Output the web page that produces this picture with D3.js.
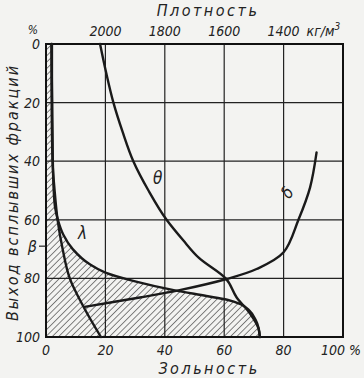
<!DOCTYPE html>
<html><head><meta charset="utf-8">
<script src="https://cdn.jsdelivr.net/npm/d3@7"></script>
<style>
html,body{margin:0;padding:0;background:#f3f3f1;}
svg{display:block;}
text{font-family:"Liberation Sans Narrow","DejaVu Sans Condensed",sans-serif;font-style:italic;fill:#222;}
</style></head>
<body>
<script>
// Ash (%) vs yield of floated fractions (%)
const ashTicks = [0, 20, 40, 60, 80, 100];
const yieldTicks = [0, 20, 40, 60, 80, 100];
const densityTicks = [2000, 1800, 1600, 1400];
const betaYield = 69;

// λ – cumulative ash of floats (hatch boundary)
const lambdaYield = [0, 10, 20, 30, 40, 50, 56, 60, 65, 70, 75, 78, 81, 84, 86, 87.3, 88.8, 91, 94, 97, 100];
const lambdaAsh   = [2.0, 2.0, 2.1, 2.2, 2.3, 2.6, 3.1, 4.0, 5.8, 9.0, 14.5, 20, 30, 43, 54, 61, 65.5, 68.5, 70.5, 71.6, 72];

// elementary ash curve
const elemYield = [0, 20, 40, 50, 60, 70, 80, 90, 100];
const elemAsh   = [1.8, 1.9, 2.2, 2.9, 3.9, 5.6, 8.0, 12.8, 18.5];

// θ – density curve
const thetaYield   = [0, 10, 20, 30, 40, 50, 60, 67, 73, 80, 86.5, 92, 97, 100];
const thetaDensity = [2018, 1997, 1973, 1942, 1906, 1855, 1794, 1738, 1685, 1595, 1558, 1513, 1485, 1480];

// δ – cumulative ash of sinks
const deltaYield = [89.7, 86.5, 84, 80.2, 76.8, 71.1, 60, 49, 37];
const deltaAsh   = [13, 31.6, 45, 60.8, 70.9, 80, 85, 88.9, 91.1];

const W = 364, H = 378;
const m = {left: 46, right: 21, top: 44, bottom: 41};

const svg = d3.select("body").append("svg").attr("width", W).attr("height", H);

const x = d3.scaleLinear().domain([0, 100]).range([m.left, W - m.right]);
const y = d3.scaleLinear().domain([0, 100]).range([m.top, H - m.bottom]);
const xd = d3.scaleLinear().domain([2200, 1200]).range([m.left, W - m.right]);

// hatch pattern
const defs = svg.append("defs");
const pat = defs.append("pattern").attr("id", "hatch").attr("patternUnits", "userSpaceOnUse")
  .attr("width", 4.5).attr("height", 4.5).attr("patternTransform", "rotate(45)");
pat.append("line").attr("x1", 0).attr("y1", 0).attr("x2", 0).attr("y2", 4.5)
  .attr("stroke", "#222").attr("stroke-width", 1.1);

// hatched area between x=0 and λ
const lambdaPts = lambdaYield.map((v, i) => [lambdaAsh[i], v]);
const area = d3.area().curve(d3.curveMonotoneY)
  .y(d => y(d[1])).x0(x(0)).x1(d => x(d[0]));
svg.append("path").datum(lambdaPts).attr("d", area).attr("fill", "url(#hatch)");

// grid
const g = svg.append("g");
g.selectAll(".gx").data(ashTicks.slice(1, -1)).join("line")
  .attr("x1", d => x(d)).attr("x2", d => x(d)).attr("y1", y(0)).attr("y2", y(100))
  .attr("stroke", "#222").attr("stroke-width", 1.2);
g.selectAll(".gy").data(yieldTicks.slice(1, -1)).join("line")
  .attr("y1", d => y(d)).attr("y2", d => y(d)).attr("x1", x(0)).attr("x2", x(100))
  .attr("stroke", "#222").attr("stroke-width", 1.2);

// frame
svg.append("rect").attr("x", x(0)).attr("y", y(0)).attr("width", x(100) - x(0)).attr("height", y(100) - y(0))
  .attr("fill", "none").attr("stroke", "#111").attr("stroke-width", 2);

// curves
const lineAY = d3.line().curve(d3.curveMonotoneY).x(d => x(d[0])).y(d => y(d[1]));
const curveStyle = p => p.attr("fill", "none").attr("stroke", "#1a1a1a").attr("stroke-width", 2.4).attr("stroke-linecap", "round");

svg.append("path").datum(lambdaPts).attr("d", lineAY).call(curveStyle);
svg.append("path").datum(elemYield.map((v, i) => [elemAsh[i], v])).attr("d", lineAY).call(curveStyle);

const thetaLine = d3.line().curve(d3.curveMonotoneY).x(d => xd(d[0])).y(d => y(d[1]));
svg.append("path").datum(thetaYield.map((v, i) => [thetaDensity[i], v])).attr("d", thetaLine).call(curveStyle);

const deltaLine = d3.line().curve(d3.curveCatmullRom).x(d => x(d[0])).y(d => y(d[1]));
svg.append("path").datum(deltaYield.map((v, i) => [deltaAsh[i], v])).attr("d", deltaLine).call(curveStyle);

// left axis labels
svg.selectAll(".yl").data(yieldTicks).join("text")
  .attr("x", m.left - 6).attr("y", d => y(d) + 5).attr("text-anchor", "end")
  .attr("font-size", 14).text(d => d);

// beta tick
svg.append("line").attr("x1", m.left - 7).attr("x2", m.left).attr("y1", y(betaYield)).attr("y2", y(betaYield))
  .attr("stroke", "#222").attr("stroke-width", 1.2);
svg.append("text").attr("x", m.left - 9).attr("y", y(betaYield) + 6).attr("text-anchor", "end")
  .attr("font-size", 16).text("β");

// bottom axis labels
svg.selectAll(".xl").data(ashTicks.slice(0, -1)).join("text")
  .attr("x", d => x(d)).attr("y", H - m.bottom + 18).attr("text-anchor", "middle")
  .attr("font-size", 14).text(d => d);
svg.append("text").attr("x", 361).attr("y", H - m.bottom + 18).attr("text-anchor", "end")
  .attr("font-size", 14).text("100 %");

// top density labels
svg.selectAll(".dl").data(densityTicks).join("text")
  .attr("x", d => xd(d)).attr("y", m.top - 8).attr("text-anchor", "middle")
  .attr("font-size", 14).text(d => d);
svg.append("text").attr("x", xd(1400) + 23).attr("y", m.top - 8).attr("font-size", 14)
  .html('кг/м<tspan dy="-6" font-size="10">3</tspan>');
svg.append("text").attr("x", 33).attr("y", m.top - 10).attr("text-anchor", "middle").attr("font-size", 12).text("%");

// titles
svg.append("text").attr("x", 208).attr("y", 16).attr("text-anchor", "middle").attr("font-size", 16)
  .attr("letter-spacing", 2.5).text("Плотность");
svg.append("text").attr("x", 209).attr("y", 374).attr("text-anchor", "middle").attr("font-size", 16)
  .attr("letter-spacing", 2.5).text("Зольность");
svg.append("text").attr("transform", `translate(18,${(m.top + H - m.bottom) / 2 + 2}) rotate(-90)`)
  .attr("text-anchor", "middle").attr("font-size", 16).attr("letter-spacing", 2).text("Выход всплывших фракций");

// curve labels
svg.append("text").attr("x", 153).attr("y", 184).attr("font-size", 17).text("θ");
svg.append("text").attr("x", 78).attr("y", 239).attr("font-size", 17).text("λ");
svg.append("text").attr("transform", "translate(292,196) rotate(-55)").attr("text-anchor", "middle")
  .attr("font-size", 17).text("δ");
</script>
</body></html>
